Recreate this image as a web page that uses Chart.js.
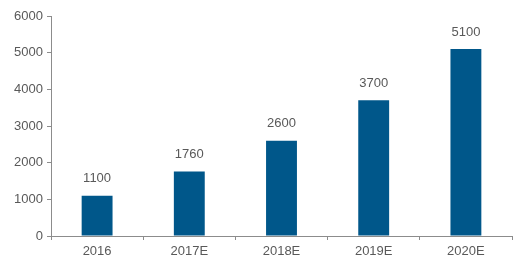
<!DOCTYPE html>
<html>
<head>
<meta charset="utf-8">
<script src="https://cdn.jsdelivr.net/npm/chart.js@4/dist/chart.umd.min.js"></script>
<style>
html,body{margin:0;padding:0;background:#fff;}
#wrap{width:520px;height:268px;}
</style>
</head>
<body>
<div id="wrap"><canvas id="c" width="520" height="268"></canvas></div>
<script>
const categories = ["2016", "2017E", "2018E", "2019E", "2020E"];
const values = [1100, 1760, 2600, 3700, 5100];
const yTicks = [0, 1000, 2000, 3000, 4000, 5000, 6000];

const textColor = "#595959";
const axisColor = "#8c8c8c";
const barColor = "#00578a";
const fontFamily = "'Liberation Sans', Arial, sans-serif";

const valueLabels = {
  id: "valueLabels",
  afterDatasetsDraw(chart) {
    const ctx = chart.ctx;
    const meta = chart.getDatasetMeta(0);
    ctx.save();
    ctx.fillStyle = textColor;
    ctx.font = "13px " + fontFamily;
    ctx.textAlign = "center";
    ctx.textBaseline = "middle";
    meta.data.forEach((bar, i) => {
      ctx.fillText(String(values[i]), bar.x, bar.y - 17);
    });
    ctx.restore();
  }
};

new Chart(document.getElementById("c"), {
  type: "bar",
  data: {
    labels: categories,
    datasets: [{
      data: values,
      backgroundColor: barColor,
      borderWidth: 0,
      barPercentage: 0.67,
      categoryPercentage: 0.5
    }]
  },
  options: {
    responsive: false,
    animation: false,
    devicePixelRatio: 1,
    layout: { padding: { left: 0, right: 8, top: 16, bottom: 0 } },
    plugins: { legend: { display: false }, tooltip: { enabled: false } },
    scales: {
      x: {
        grid: { display: true, drawOnChartArea: false, drawTicks: true, tickLength: 4, color: axisColor, offset: true },
        border: { display: true, color: axisColor, width: 1 },
        ticks: { color: textColor, font: { family: fontFamily, size: 13 }, padding: 4, maxRotation: 0 },
        afterFit(scale) { scale.height = 32; }
      },
      y: {
        min: 0,
        max: 6000,
        afterBuildTicks(scale) { scale.ticks = yTicks.map(v => ({ value: v })); },
        grid: { display: true, drawOnChartArea: false, drawTicks: true, tickLength: 4, color: axisColor },
        border: { display: true, color: axisColor, width: 1 },
        ticks: { color: textColor, font: { family: fontFamily, size: 13 }, padding: 4, callback: (v) => String(v) },
        afterFit(scale) { scale.width = 51; }
      }
    }
  },
  plugins: [valueLabels]
});
</script>
</body>
</html>
